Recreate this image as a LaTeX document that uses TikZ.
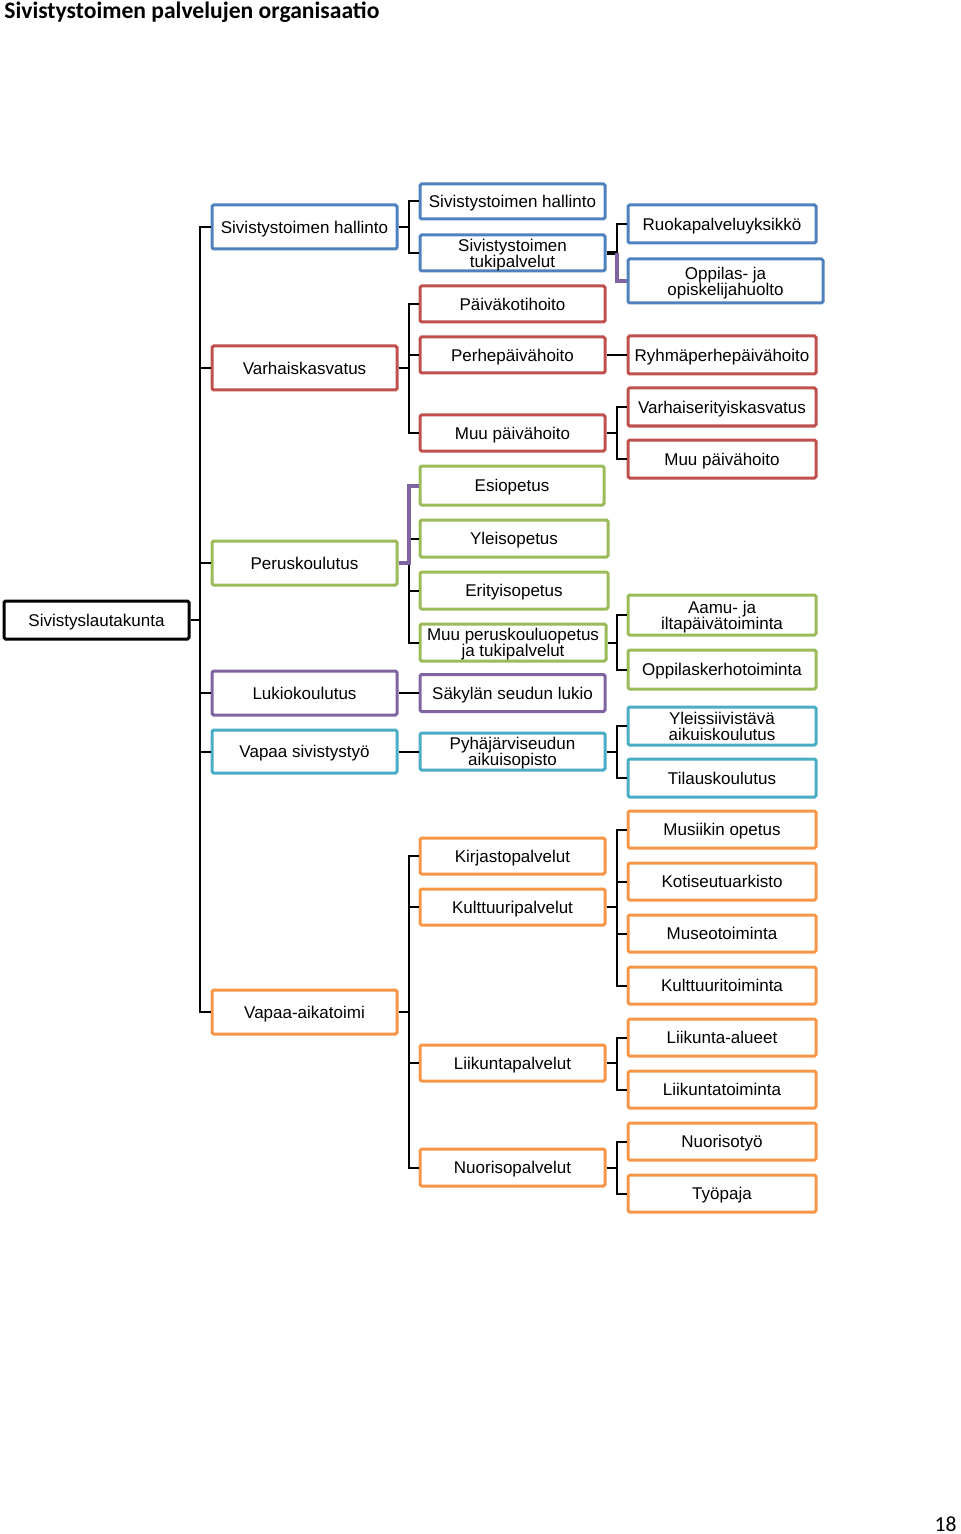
\documentclass[tikz,border=0pt]{standalone}
\usepackage{fontspec}
\setmainfont{Liberation Sans}
\newfontfamily\titlefont{Carlito}
\definecolor{cblue}{HTML}{4F81BD}
\definecolor{cred}{HTML}{C0504D}
\definecolor{cgreen}{HTML}{9BBB59}
\definecolor{cpurple}{HTML}{8064A2}
\definecolor{cteal}{HTML}{4BACC6}
\definecolor{corange}{HTML}{F79646}
\tikzset{
  box/.style={rectangle, rounded corners=0.8pt, line width=1.5pt, fill=white, inner sep=0pt, align=center,
    font=\fontsize{8.5}{8}\selectfont, text=black, text height=6.1pt, text depth=0pt},
  twoline/.style={text height=14.1pt, text depth=0pt},
  conn/.style={line width=1pt, draw=black},
  connthick/.style={line width=1.6pt, draw=black},
  connpurple/.style={line width=2pt, draw=cpurple}
}
\newcommand{\B}[8][]{\node[box, draw=#7, minimum width=#5*0.5pt, minimum height=#6*0.5pt, #1] (#2) at (#3,#4) {#8};}
\begin{document}
\begin{tikzpicture}[x=0.5pt, y=-0.5pt]
\useasboundingbox (0,0) rectangle (960,1534);
\node[anchor=base west, inner sep=0pt, font=\titlefont\bfseries\fontsize{11.8}{12}\selectfont] (title) at (4,18.5) {Sivistystoimen palvelujen organisaatio};
\node[anchor=base east, inner sep=0pt, font=\titlefont\fontsize{10.8}{11}\selectfont] (page) at (957,1531) {18};

\coordinate (trunk) at (200,0);
\coordinate (busB) at (409,0);
\coordinate (busC) at (617,0);

% root
\B{root}{96.5}{620}{185}{38}{black}{Sivistyslautakunta}
% level 2
\B{a2}{304.5}{227}{185}{44}{cblue}{Sivistystoimen hallinto}
\B{b2}{304.5}{368}{185}{44}{cred}{Varhaiskasvatus}
\B{c2}{304.5}{563}{185}{44}{cgreen}{Peruskoulutus}
\B{d2}{304.5}{693}{185}{44}{cpurple}{Lukiokoulutus}
\B{e2}{304.5}{751.5}{185}{43}{cteal}{Vapaa sivistystyö}
\B{f2}{304.5}{1012}{185}{44}{corange}{Vapaa-aikatoimi}
% level 3
\B{a3a}{512.5}{201.5}{185}{35}{cblue}{Sivistystoimen hallinto}
\B[twoline]{a3b}{512.5}{253}{185}{36}{cblue}{Sivistystoimen\\tukipalvelut}
\B{b3a}{512.5}{304}{185}{36}{cred}{Päiväkotihoito}
\B{b3b}{512.5}{355}{185}{36}{cred}{Perhepäivähoito}
\B{b3c}{512.5}{433}{185}{36}{cred}{Muu päivähoito}
\B{c3a}{512}{485.5}{184}{39}{cgreen}{Esiopetus}
\B{c3b}{514}{538.5}{188}{37}{cgreen}{Yleisopetus}
\B{c3c}{514}{590.5}{188}{37}{cgreen}{Erityisopetus}
\B[twoline]{c3d}{513}{642.5}{186}{37}{cgreen}{Muu peruskouluopetus\\ja tukipalvelut}
\B{d3}{512.5}{693}{185}{37}{cpurple}{Säkylän seudun lukio}
\B[twoline]{e3}{512.5}{751.5}{185}{37}{cteal}{Pyhäjärviseudun\\aikuisopisto}
\B{f3a}{512.5}{856}{185}{36}{corange}{Kirjastopalvelut}
\B{f3b}{512.5}{907}{185}{36}{corange}{Kulttuuripalvelut}
\B{f3c}{512.5}{1063}{185}{36}{corange}{Liikuntapalvelut}
\B{f3d}{512.5}{1167.5}{185}{37}{corange}{Nuorisopalvelut}
% level 4
\B{a4a}{722}{224}{188}{38}{cblue}{Ruokapalveluyksikkö}
\B[twoline]{a4b}{725.5}{281}{195}{44}{cblue}{Oppilas- ja\\opiskelijahuolto}
\B{b4a}{722}{355}{188}{38}{cred}{Ryhmäperhepäivähoito}
\B{b4b}{722}{407}{188}{38}{cred}{Varhaiserityiskasvatus}
\B{b4c}{722}{459}{188}{38}{cred}{Muu päivähoito}
\B[twoline]{c4a}{722}{615}{188}{40}{cgreen}{Aamu- ja\\iltapäivätoiminta}
\B{c4b}{722}{669.5}{188}{39}{cgreen}{Oppilaskerhotoiminta}
\B[twoline]{e4a}{722}{726}{188}{38}{cteal}{Yleissiivistävä\\aikuiskoulutus}
\B{e4b}{722}{778}{188}{38}{cteal}{Tilauskoulutus}
\B{f4a}{722}{829.5}{188}{37}{corange}{Musiikin opetus}
\B{f4b}{722}{881.5}{188}{37}{corange}{Kotiseutuarkisto}
\B{f4c}{722}{933.5}{188}{37}{corange}{Museotoiminta}
\B{f4d}{722}{985.5}{188}{37}{corange}{Kulttuuritoiminta}
\B{f4e}{722}{1037.5}{188}{37}{corange}{Liikunta-alueet}
\B{f4f}{722}{1089.5}{188}{37}{corange}{Liikuntatoiminta}
\B{f4g}{722}{1141.5}{188}{37}{corange}{Nuorisotyö}
\B{f4h}{722}{1193.5}{188}{37}{corange}{Työpaja}

% connectors: root to level 2
\draw[conn] (root.east) -- (root.east -| trunk);
\foreach \n in {a2,b2,c2,d2,e2,f2}{
  \draw[conn] (root.east -| trunk) |- (\n.west);
}
% level 2 to level 3
\foreach \p/\c in {a2/a3a,a2/a3b,b2/b3a,b2/b3b,b2/b3c,c2/c3b,c2/c3c,c2/c3d,f2/f3a,f2/f3b,f2/f3c,f2/f3d}{
  \draw[conn] (\p.east) -- (\p.east -| busB) |- (\c.west);
}
\draw[conn] (d2.east) -- (d3.west);
\draw[conn] (e2.east) -- (e3.west);
\draw[connpurple] (c2.east) -- (c2.east -| busB) |- (c3a.west);
% level 3 to level 4
\draw[connthick] (a3b.east) -- (a3b.east -| busC);
\draw[conn] (a3b.east -| busC) |- (a4a.west);
\draw[connpurple] (a3b.east -| busC) |- (a4b.west);
\draw[conn] (b3b.east) -- (b4a.west);
\foreach \p/\c in {b3c/b4b,b3c/b4c,c3d/c4a,c3d/c4b,e3/e4a,e3/e4b,f3b/f4a,f3b/f4b,f3b/f4c,f3b/f4d,f3c/f4e,f3c/f4f,f3d/f4g,f3d/f4h}{
  \draw[conn] (\p.east) -- (\p.east -| busC) |- (\c.west);
}
\end{tikzpicture}
\end{document}
